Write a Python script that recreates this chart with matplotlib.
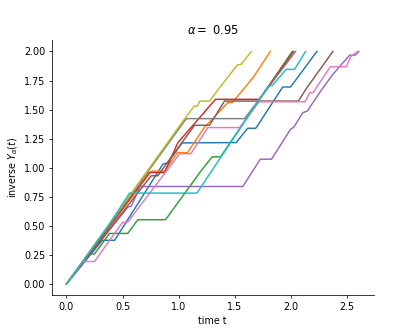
import matplotlib
matplotlib.use('Agg')
import matplotlib.pyplot as plt

alpha = 0.95

# breakpoints of each inverse-subordinator path
t0 = [0, 0.32, 0.43, 0.86, 0.90, 1.033, 1.515, 1.617, 1.69, 1.93, 2.0, 2.235]
y0 = [0, 0.375, 0.375, 1.03, 1.04, 1.213, 1.216, 1.339, 1.339, 1.694, 1.694, 2.0]

t1 = [0, 0.757, 0.875, 0.99, 1.08, 1.23, 1.44, 1.48, 1.664, 1.82]
y1 = [0, 0.97, 0.97, 1.13, 1.13, 1.345, 1.56, 1.56, 1.773, 2.0]

t2 = [0, 0.21, 0.25, 0.384, 0.547, 0.637, 0.884, 1.19, 1.30, 1.375, 2.015]
y2 = [0, 0.257, 0.257, 0.434, 0.434, 0.552, 0.552, 0.958, 1.093, 1.093, 2.0]

t3 = [0, 0.74, 0.875, 0.994, 1.33, 1.72, 2.027]
y3 = [0, 0.958, 0.958, 1.215, 1.588, 1.588, 2.0]

t4 = [0, 0.547, 0.58, 0.655, 1.574, 1.73, 1.83, 2.0, 2.03, 2.11, 2.15, 2.27, 2.375, 2.527, 2.575, 2.61]
y4 = [0, 0.66, 0.67, 0.838, 0.838, 1.073, 1.073, 1.33, 1.35, 1.473, 1.488, 1.66, 1.80, 1.968, 1.968, 2.0]

t5 = [0, 0.756, 0.815, 1.143, 1.277, 1.41, 2.07, 2.146, 2.378]
y5 = [0, 0.93, 0.93, 1.365, 1.365, 1.573, 1.573, 1.688, 2.0]

t6 = [0, 0.146, 0.25, 0.50, 0.545, 1.01, 1.11, 1.262, 1.545, 1.72, 2.13, 2.17, 2.2, 2.355, 2.497, 2.54, 2.60]
y6 = [0, 0.192, 0.192, 0.53, 0.53, 1.12, 1.12, 1.345, 1.345, 1.567, 1.567, 1.645, 1.645, 1.868, 1.868, 1.96, 2.0]

t7 = [0, 1.07, 1.59, 2.045]
y7 = [0, 1.422, 1.422, 2.0]

t8 = [0, 1.054, 1.14, 1.17, 1.19, 1.277, 1.366, 1.527, 1.56, 1.65]
y8 = [0, 1.42, 1.53, 1.53, 1.573, 1.573, 1.688, 1.885, 1.89, 2.0]

t9 = [0, 0.384, 0.5625, 1.164, 1.80, 1.84, 1.96, 2.036, 2.134]
y9 = [0, 0.515, 0.781, 0.781, 1.70, 1.71, 1.846, 1.846, 2.0]

paths = [(t0, y0), (t1, y1), (t2, y2), (t3, y3), (t4, y4),
         (t5, y5), (t6, y6), (t7, y7), (t8, y8), (t9, y9)]

fig, ax = plt.subplots(figsize=(6, 4.8), dpi=415 / 6)
for t, y in paths:
    ax.plot(t, y)

ax.set_title(r'$\alpha = $ ' + str(alpha))
ax.set_xlabel('time t')
ax.set_ylabel(r'inverse $Y_\alpha(t)$')
ax.spines['top'].set_visible(False)
ax.spines['right'].set_visible(False)

fig.savefig('out.png')
